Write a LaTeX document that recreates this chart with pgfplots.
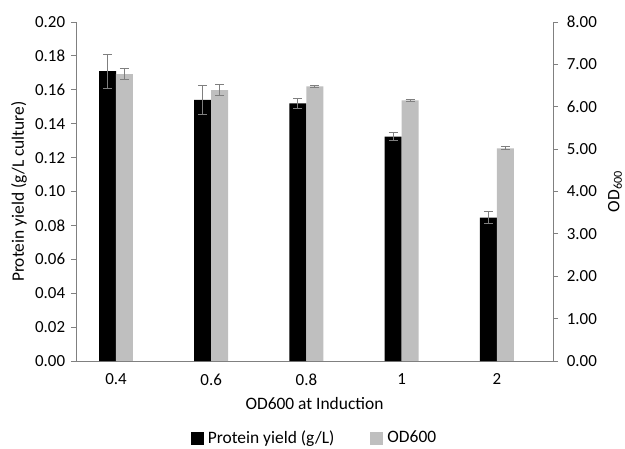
\documentclass[border=0pt]{standalone}
\usepackage{pgfplots}
\pgfplotsset{compat=1.18}
\usepackage{fontspec}
\setmainfont{Carlito}
\definecolor{axgray}{HTML}{808080}
\definecolor{bargray}{HTML}{BFBFBF}
\definecolor{errgray}{HTML}{7F7F7F}
\begin{document}
\fontsize{17}{20}\selectfont
\begin{tikzpicture}
\path[use as bounding box] (-76bp,-88bp) rectangle (549bp,361bp);
\pgfplotsset{
  common/.style={
    at={(0,0)}, anchor=south west,
    width=477bp, height=339bp, scale only axis,
    xmin=-0.42, xmax=4.59, ymin=0,
    axis line style={draw=axgray, line width=0.9pt},
    tick style={draw=axgray, line width=0.9pt},
    major tick length=5bp,
    tick align=outside,
    tick label style={font=\fontsize{17}{20}\selectfont},
    label style={font=\fontsize{17.5}{20}\selectfont},
    /pgf/number format/fixed, /pgf/number format/fixed zerofill,
    /pgf/number format/precision=2, /pgf/number format/assume math mode=true,
  }
}
\begin{axis}[common, name=ax,
  axis x line*=bottom, axis y line*=left,
  ymax=0.2, ytick={0,0.02,0.04,0.06,0.08,0.1,0.12,0.14,0.16,0.18,0.2},
  xtick={0,1,2,3,4}, xticklabels={0.4,0.6,0.8,1,2},
  x tick style={draw=none},
  xticklabel style={yshift=-2bp},
  xlabel={OD600 at Induction},
  ylabel={Protein yield (g/L culture)},
  xlabel style={at={([yshift=-43bp]axis description cs:0.5,0)}, anchor=center},
  ylabel style={at={([xshift=-57bp]axis description cs:0,0.5)}, anchor=center, rotate=0},
  legend style={draw=none, at={(0.5,-0.228)}, anchor=center, legend columns=2,
    inner sep=0pt,
    nodes={inner sep=2bp},
    /tikz/column 1/.style={column sep=2bp},
    /tikz/column 2/.style={column sep=34bp},
    /tikz/column 3/.style={column sep=2bp},
    font=\fontsize{17.5}{20}\selectfont},
  legend image code/.code={\fill[#1, draw=none] (0bp,-6.5bp) rectangle (13bp,6.5bp);},
]
\addplot[ybar, bar width=17bp, fill=black, draw=none,
  error bars/.cd, y dir=both, y explicit,
  error bar style={errgray, line width=1pt},
  error mark options={errgray, rotate=90, mark size=4.5bp, line width=1pt}]
  coordinates {(-0.089,0.171) +- (0,0.010) (0.911,0.154) +- (0,0.0085) (1.911,0.152) +- (0,0.0028) (2.911,0.1324) +- (0,0.0025) (3.911,0.0846) +- (0,0.0035)};
\addlegendentry{Protein yield (g/L)}
\addlegendimage{fill=bargray, draw=none}
\addlegendentry{OD600}
\end{axis}
\begin{axis}[common,
  axis y line*=right, axis x line=none,
  ymax=8, ytick={0,1,2,3,4,5,6,7,8},
  yticklabel style={xshift=3bp},
  ylabel={OD\textsubscript{600}},
  ylabel style={at={([xshift=62bp]axis description cs:1,0.5)}, anchor=center, rotate=0},
]
\addplot[ybar, bar width=17bp, fill=bargray, draw=none,
  error bars/.cd, y dir=both, y explicit,
  error bar style={errgray, line width=1pt},
  error mark options={errgray, rotate=90, mark size=4.5bp, line width=1pt}]
  coordinates {(0.089,6.77) +- (0,0.13) (1.089,6.39) +- (0,0.135) (2.089,6.48) +- (0,0.02) (3.089,6.15) +- (0,0.02) (4.089,5.02) +- (0,0.04)};
\end{axis}
\end{tikzpicture}
\end{document}
